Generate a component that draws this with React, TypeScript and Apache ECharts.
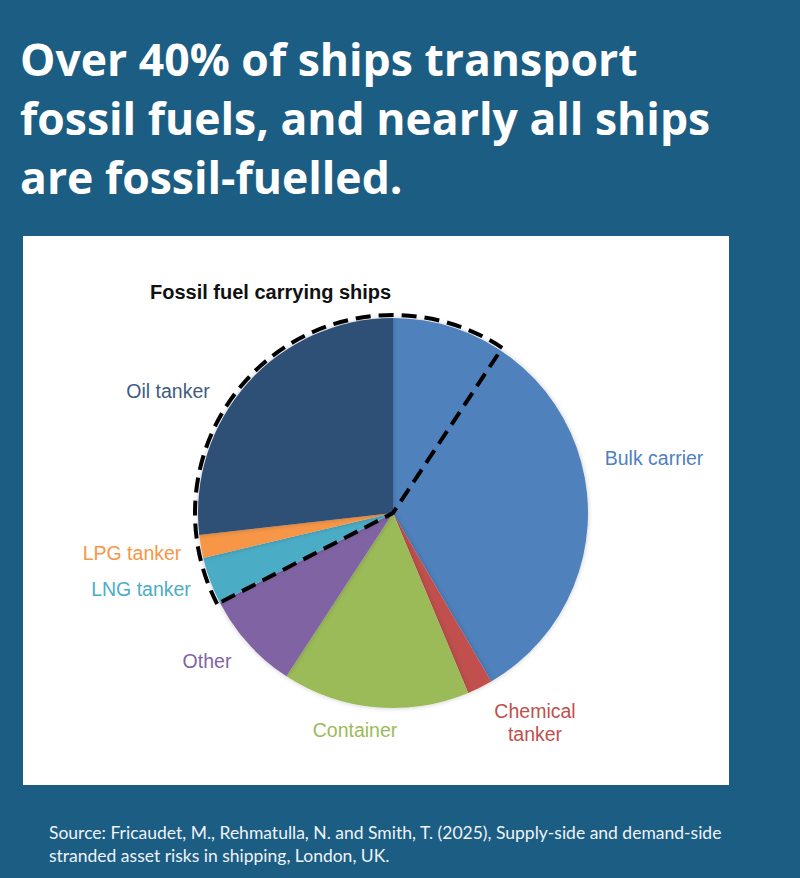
import React, { useEffect, useRef } from "react";
import * as echarts from "echarts";

// ---- data ----
const shipTypes = [
  "Bulk carrier",
  "Chemical tanker",
  "Container",
  "Other",
  "LNG tanker",
  "LPG tanker",
  "Oil tanker",
];
const fleetShare = [41.6, 2.1, 15.5, 8.2, 3.9, 1.9, 26.8];
const fossilCarrying = [false, false, false, false, true, true, true];
// part of the bulk carrier fleet that carries coal (fossil fuel)
const coalBulkShare = 9.3;

const sliceColors = ["#4f81bd", "#c0504d", "#9bbb59", "#8064a2", "#4bacc6", "#f79646", "#2f4f76"];
const labelColors = ["#4f81bd", "#c0504d", "#9bbb59", "#8064a2", "#4bacc6", "#f79646", "#3f5c80"];

const titleLines = [
  "Over 40% of ships transport",
  "fossil fuels, and nearly all ships",
  "are fossil-fuelled.",
];
const chartTitle = "Fossil fuel carrying ships";
const sourceLines = [
  "Source: Fricaudet, M., Rehmatulla, N. and Smith, T. (2025), Supply-side and demand-side",
  "stranded asset risks in shipping, London, UK.",
];

// label anchor positions (centre of each label)
const labelPos: Record<string, [number, number]> = {
  "Bulk carrier": [654, 458],
  "Chemical tanker": [535, 722],
  Container: [355, 730],
  Other: [207, 661],
  "LNG tanker": [141, 589],
  "LPG tanker": [132, 553],
  "Oil tanker": [168, 391],
};

const W = 800;
const H = 878;
const CENTER = [393, 513];

export default function App() {
  const ref = useRef<HTMLDivElement>(null);

  useEffect(() => {
    document.body.style.margin = "0";
    if (!ref.current) return;
    const chart = echarts.init(ref.current, undefined, { renderer: "svg" });

    const total = fleetShare.reduce((a, b) => a + b, 0);
    const firstFossil = fossilCarrying.indexOf(true);
    const before = fleetShare.slice(0, firstFossil).reduce((a, b) => a + b, 0);
    const fossilTotal =
      fleetShare.reduce((a, v, i) => a + (fossilCarrying[i] ? v : 0), 0) + coalBulkShare;
    const fossilStart = 90 - (360 * before) / total;

    const titleGraphics = titleLines.map((t, i) => ({
      type: "text",
      z: 10,
      style: {
        text: t,
        x: 20,
        y: 58 + i * 59,
        fill: "#ffffff",
        fontFamily: "Open Sans",
        fontWeight: "bold",
        fontSize: 44.5,
        verticalAlign: "middle",
      },
    }));
    const sourceGraphics = sourceLines.map((t, i) => ({
      type: "text",
      z: 10,
      style: {
        text: t,
        x: 49,
        y: 832 + i * 23,
        fill: "#eef3f7",
        fontFamily: "Lato",
        fontSize: 17.5,
        verticalAlign: "middle",
      },
    }));

    chart.setOption({
      animation: false,
      backgroundColor: "#1c5d83",
      graphic: [
        {
          type: "rect",
          z: 0,
          shape: { x: 23, y: 236, width: 706, height: 549 },
          style: { fill: "#ffffff" },
        },
        ...titleGraphics,
        {
          type: "text",
          z: 10,
          style: {
            text: chartTitle,
            x: 150,
            y: 292,
            fill: "#111111",
            fontFamily: "Liberation Sans",
            fontWeight: "bold",
            fontSize: 20,
            verticalAlign: "middle",
          },
        },
        ...sourceGraphics,
      ],
      series: [
        {
          type: "pie",
          center: CENTER,
          radius: 195,
          startAngle: 90,
          clockwise: true,
          silent: true,
          avoidLabelOverlap: false,
          data: shipTypes.map((n, i) => ({
            name: n,
            value: fleetShare[i],
            itemStyle: { color: sliceColors[i] },
            label: { color: labelColors[i] },
          })),
          itemStyle: {
            borderWidth: 0,
            shadowBlur: 5,
            shadowColor: "rgba(0,0,0,0.22)",
          },
          label: {
            show: true,
            position: "outside",
            fontFamily: "Liberation Sans",
            fontSize: 19.5,
            lineHeight: 23,
            align: "center",
            formatter: (p: any) => (p.name === "Chemical tanker" ? "Chemical\ntanker" : p.name),
          },
          labelLine: { show: false },
          labelLayout: (params: any) => {
            const p = labelPos[shipTypes[params.dataIndex]];
            return { x: p[0], y: p[1], align: "center", verticalAlign: "middle" };
          },
        },
        {
          type: "pie",
          center: CENTER,
          radius: 198,
          startAngle: fossilStart,
          clockwise: true,
          silent: true,
          z: 5,
          label: { show: false },
          labelLine: { show: false },
          data: [
            {
              name: "Fossil fuel carrying",
              value: fossilTotal,
              itemStyle: {
                color: "rgba(0,0,0,0)",
                borderColor: "#000000",
                borderWidth: 4,
                borderType: [15, 8],
              },
            },
            {
              name: "Other cargo",
              value: total - fossilTotal,
              itemStyle: { color: "rgba(0,0,0,0)", borderWidth: 0 },
            },
          ],
        },
      ],
    });

    return () => chart.dispose();
  }, []);

  return <div ref={ref} style={{ width: W, height: H }} />;
}
